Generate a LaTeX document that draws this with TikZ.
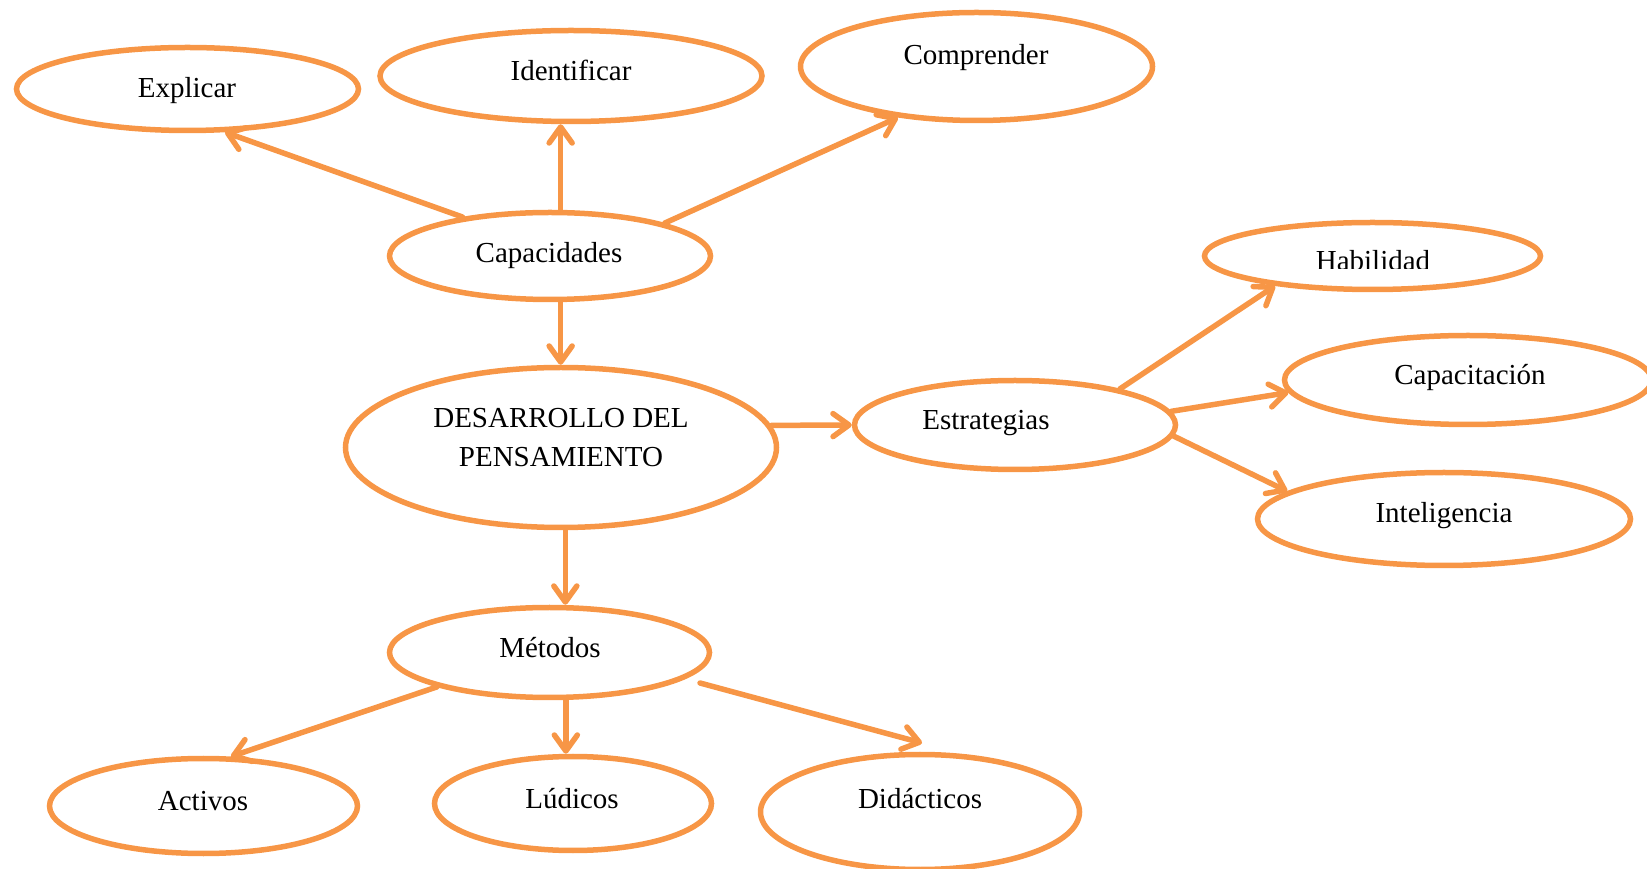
\documentclass[tikz,border=0pt]{standalone}
\usepackage{fontspec}
\setmainfont{Liberation Serif}
\usetikzlibrary{shapes.geometric,arrows.meta,calc}
\definecolor{orng}{HTML}{F79646}
\tikzset{
  oval/.style={ellipse,draw=orng,line width=5.5pt,inner sep=0pt},
  lbl/.style={anchor=base,inner sep=0pt,font=\fontsize{29}{39}\selectfont},
  conn/.style={draw=orng,line width=5.5pt,line cap=round,-{Straight Barb[length=16pt,width=23pt,round]}}
}
\begin{document}
\begin{tikzpicture}[x=1pt,y=1pt]
\useasboundingbox (0,0) rectangle (1647,868);
% ellipses
\node[oval,minimum width=342pt,minimum height=83pt] (expl) at (187.5,779) {};
\node[oval,minimum width=382pt,minimum height=91pt] (iden) at (571,792) {};
\node[oval,minimum width=352pt,minimum height=108pt] (comp) at (976.5,801.5) {};
\node[oval,minimum width=321pt,minimum height=87pt] (cap) at (550,612) {};
\node[oval,minimum width=336pt,minimum height=67pt] (hab) at (1372.5,612) {};
\node[oval,minimum width=367pt,minimum height=89pt] (capa) at (1468,488) {};
\node[oval,minimum width=431pt,minimum height=160pt] (des) at (561,420.5) {};
\node[oval,minimum width=321pt,minimum height=89pt] (est) at (1015,443) {};
\node[oval,minimum width=373pt,minimum height=93pt] (intl) at (1444,349) {};
\node[oval,minimum width=320pt,minimum height=90pt] (met) at (549.5,215.5) {};
\node[oval,minimum width=308pt,minimum height=95pt] (act) at (203.5,62) {};
\node[oval,minimum width=277pt,minimum height=94pt] (lud) at (573,64.5) {};
\node[oval,minimum width=319pt,minimum height=115pt] (did) at (920,56) {};
% texts
\node[lbl] (t-expl) at (187,770) {Explicar};
\node[lbl] (t-iden) at (571,787) {Identificar};
\node[lbl] (t-comp) at (976,803) {Comprender};
\node[lbl] (t-cap) at (549,605) {Capacidades};
\begin{scope}
\clip (1200,599) rectangle (1550,640);
\node[lbl] (t-hab) at (1373,597) {Habilidad};
\end{scope}
\node[lbl] (t-capa) at (1470,483) {Capacitación};
\node[lbl] (t-des1) at (561,440) {DESARROLLO DEL};
\node[lbl] (t-des2) at (561,401) {PENSAMIENTO};
\node[lbl] (t-est) at (986,438) {Estrategias};
\node[lbl] (t-intl) at (1444,345) {Inteligencia};
\node[lbl] (t-met) at (550,210) {Métodos};
\node[lbl] (t-act) at (203,58) {Activos};
\node[lbl] (t-lud) at (572,60) {Lúdicos};
\node[lbl] (t-did) at (920,60) {Didácticos};
% connectors
\draw[conn] (cap.156) -- (expl.-49);
\draw[conn] (cap.77) -- (cap.77 |- iden.south);
\draw[conn] (cap.16) -- (comp.-147);
\draw[conn] (cap.-77) -- (cap.-77 |- des.north);
\draw[conn] (des.6.2) -- (est.west);
\draw[conn] (est.19) -- (hab.-163);
\draw[conn] (est.5) -- (capa.-176);
\draw[conn] (est.-4) -- (intl.170);
\draw[conn] (des.-87) -- (des.-87 |- met.north);
\draw[conn] (met.-163) -- (act.61);
\draw[conn] (met.-71) -- (met.-71 |- lud.north);
\draw[conn] ($(met.center)+(150.5,-30.5)$) -- ($(did.center)+(2,69)$);
\end{tikzpicture}
\end{document}
